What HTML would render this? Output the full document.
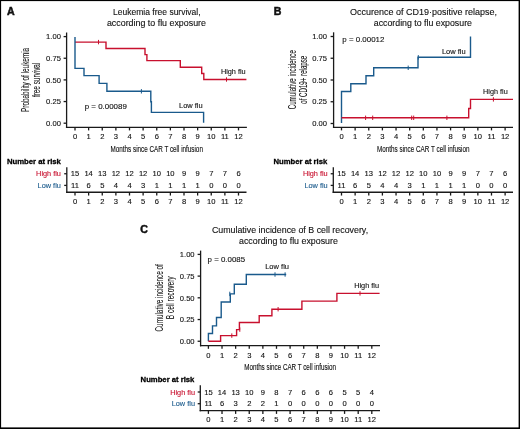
<!DOCTYPE html>
<html><head><meta charset="utf-8"><style>
html,body{margin:0;padding:0;background:#fff;}
body{width:520px;height:429px;overflow:hidden;position:relative;}
svg{position:absolute;left:0;top:0;will-change:transform;}
text{font-family:"Liberation Sans", sans-serif;}
</style></head><body>
<svg width="520" height="429" viewBox="0 0 520 429">
<rect x="0" y="0" width="520" height="429" fill="#fff"/>
<line x1="66.6" y1="32.5" x2="66.6" y2="127.95" stroke="#1a1a1a" stroke-width="1.3"/>
<line x1="65.95" y1="127.3" x2="246.9" y2="127.3" stroke="#1a1a1a" stroke-width="1.3"/>
<line x1="63.6" y1="123.2" x2="66.6" y2="123.2" stroke="#1a1a1a" stroke-width="1.3"/>
<text x="60.9" y="125.9" font-size="7.6" fill="#111" text-anchor="end" stroke="#111" stroke-width="0.12">0.00</text>
<line x1="63.6" y1="101.55" x2="66.6" y2="101.55" stroke="#1a1a1a" stroke-width="1.3"/>
<text x="60.9" y="104.25" font-size="7.6" fill="#111" text-anchor="end" stroke="#111" stroke-width="0.12">0.25</text>
<line x1="63.6" y1="79.9" x2="66.6" y2="79.9" stroke="#1a1a1a" stroke-width="1.3"/>
<text x="60.9" y="82.6" font-size="7.6" fill="#111" text-anchor="end" stroke="#111" stroke-width="0.12">0.50</text>
<line x1="63.6" y1="58.25" x2="66.6" y2="58.25" stroke="#1a1a1a" stroke-width="1.3"/>
<text x="60.9" y="60.95" font-size="7.6" fill="#111" text-anchor="end" stroke="#111" stroke-width="0.12">0.75</text>
<line x1="63.6" y1="36.6" x2="66.6" y2="36.6" stroke="#1a1a1a" stroke-width="1.3"/>
<text x="60.9" y="39.3" font-size="7.6" fill="#111" text-anchor="end" stroke="#111" stroke-width="0.12">1.00</text>
<line x1="75.0" y1="127.3" x2="75.0" y2="130.4" stroke="#1a1a1a" stroke-width="1.3"/>
<text x="75.0" y="139.2" font-size="7.6" fill="#111" text-anchor="middle" stroke="#111" stroke-width="0.12">0</text>
<line x1="88.62" y1="127.3" x2="88.62" y2="130.4" stroke="#1a1a1a" stroke-width="1.3"/>
<text x="88.62" y="139.2" font-size="7.6" fill="#111" text-anchor="middle" stroke="#111" stroke-width="0.12">1</text>
<line x1="102.25" y1="127.3" x2="102.25" y2="130.4" stroke="#1a1a1a" stroke-width="1.3"/>
<text x="102.25" y="139.2" font-size="7.6" fill="#111" text-anchor="middle" stroke="#111" stroke-width="0.12">2</text>
<line x1="115.88" y1="127.3" x2="115.88" y2="130.4" stroke="#1a1a1a" stroke-width="1.3"/>
<text x="115.88" y="139.2" font-size="7.6" fill="#111" text-anchor="middle" stroke="#111" stroke-width="0.12">3</text>
<line x1="129.5" y1="127.3" x2="129.5" y2="130.4" stroke="#1a1a1a" stroke-width="1.3"/>
<text x="129.5" y="139.2" font-size="7.6" fill="#111" text-anchor="middle" stroke="#111" stroke-width="0.12">4</text>
<line x1="143.12" y1="127.3" x2="143.12" y2="130.4" stroke="#1a1a1a" stroke-width="1.3"/>
<text x="143.12" y="139.2" font-size="7.6" fill="#111" text-anchor="middle" stroke="#111" stroke-width="0.12">5</text>
<line x1="156.75" y1="127.3" x2="156.75" y2="130.4" stroke="#1a1a1a" stroke-width="1.3"/>
<text x="156.75" y="139.2" font-size="7.6" fill="#111" text-anchor="middle" stroke="#111" stroke-width="0.12">6</text>
<line x1="170.38" y1="127.3" x2="170.38" y2="130.4" stroke="#1a1a1a" stroke-width="1.3"/>
<text x="170.38" y="139.2" font-size="7.6" fill="#111" text-anchor="middle" stroke="#111" stroke-width="0.12">7</text>
<line x1="184.0" y1="127.3" x2="184.0" y2="130.4" stroke="#1a1a1a" stroke-width="1.3"/>
<text x="184.0" y="139.2" font-size="7.6" fill="#111" text-anchor="middle" stroke="#111" stroke-width="0.12">8</text>
<line x1="197.62" y1="127.3" x2="197.62" y2="130.4" stroke="#1a1a1a" stroke-width="1.3"/>
<text x="197.62" y="139.2" font-size="7.6" fill="#111" text-anchor="middle" stroke="#111" stroke-width="0.12">9</text>
<line x1="211.25" y1="127.3" x2="211.25" y2="130.4" stroke="#1a1a1a" stroke-width="1.3"/>
<text x="211.25" y="139.2" font-size="7.6" fill="#111" text-anchor="middle" stroke="#111" stroke-width="0.12">10</text>
<line x1="224.88" y1="127.3" x2="224.88" y2="130.4" stroke="#1a1a1a" stroke-width="1.3"/>
<text x="224.88" y="139.2" font-size="7.6" fill="#111" text-anchor="middle" stroke="#111" stroke-width="0.12">11</text>
<line x1="238.5" y1="127.3" x2="238.5" y2="130.4" stroke="#1a1a1a" stroke-width="1.3"/>
<text x="238.5" y="139.2" font-size="7.6" fill="#111" text-anchor="middle" stroke="#111" stroke-width="0.12">12</text>
<text x="156.75" y="151.8" font-size="9.9" fill="#111" text-anchor="middle" textLength="92.3" lengthAdjust="spacingAndGlyphs" stroke="#111" stroke-width="0.15">Months since CAR T cell infusion</text>
<text x="29.0" y="79.9" font-size="10.0" fill="#111" text-anchor="middle" textLength="64.0" lengthAdjust="spacingAndGlyphs" transform="rotate(-90 29.0 79.9)" stroke="#111" stroke-width="0.08">Probability of leukemia</text>
<text x="40.0" y="79.9" font-size="10.0" fill="#111" text-anchor="middle" textLength="34.4" lengthAdjust="spacingAndGlyphs" transform="rotate(-90 40.0 79.9)" stroke="#111" stroke-width="0.08">free survival</text>
<text x="156.85" y="14.75" font-size="9.1" fill="#111" text-anchor="middle" textLength="87.5" lengthAdjust="spacingAndGlyphs" stroke="#111" stroke-width="0.12">Leukemia free survival,</text>
<text x="156.45" y="25.9" font-size="9.1" fill="#111" text-anchor="middle" textLength="99.1" lengthAdjust="spacingAndGlyphs" stroke="#111" stroke-width="0.12">according to flu exposure</text>
<text x="6.9" y="14.6" font-size="10.6" fill="#111" font-weight="bold" stroke="#111" stroke-width="0.5">A</text>
<polyline points="75,42.1 106,42.1 106,48.5 145,48.5 145,54.6 146.9,54.6 146.9,60.6 180.3,60.6 180.3,67.3 201.7,67.3 201.7,73.5 203.8,73.5 203.8,79.5 246.4,79.5" fill="none" stroke="#c8102e" stroke-width="1.4" stroke-linejoin="miter" stroke-linecap="butt"/>
<line x1="98.5" y1="39.9" x2="98.5" y2="44.3" stroke="#c8102e" stroke-width="1.0"/>
<line x1="226.5" y1="77.3" x2="226.5" y2="81.7" stroke="#c8102e" stroke-width="1.0"/>
<polyline points="75,36.9 75,68.4 84,68.4 84,75.6 99.1,75.6 99.1,83.4 106.9,83.4 106.9,91.3 150.8,91.3 150.8,101.8 151.4,101.8 151.4,112.4 203.6,112.4 203.6,122.8" fill="none" stroke="#1a5a8c" stroke-width="1.4" stroke-linejoin="miter" stroke-linecap="butt"/>
<line x1="141.4" y1="89.1" x2="141.4" y2="93.5" stroke="#1a5a8c" stroke-width="1.0"/>
<text x="84.75" y="108.6" font-size="8.0" fill="#111" textLength="42.1" lengthAdjust="spacingAndGlyphs" stroke="#111" stroke-width="0.12">p = 0.00089</text>
<text x="245.7" y="73.8" font-size="7.9" fill="#111" text-anchor="end" textLength="24.8" lengthAdjust="spacingAndGlyphs" stroke="#111" stroke-width="0.12">High flu</text>
<text x="202.7" y="108.1" font-size="7.9" fill="#111" text-anchor="end" textLength="23.7" lengthAdjust="spacingAndGlyphs" stroke="#111" stroke-width="0.12">Low flu</text>
<line x1="333.6" y1="32.3" x2="333.6" y2="127.95" stroke="#1a1a1a" stroke-width="1.3"/>
<line x1="332.95" y1="127.3" x2="513.0" y2="127.3" stroke="#1a1a1a" stroke-width="1.3"/>
<line x1="330.6" y1="123.5" x2="333.6" y2="123.5" stroke="#1a1a1a" stroke-width="1.3"/>
<text x="327.0" y="126.2" font-size="7.6" fill="#111" text-anchor="end" stroke="#111" stroke-width="0.12">0.00</text>
<line x1="330.6" y1="101.75" x2="333.6" y2="101.75" stroke="#1a1a1a" stroke-width="1.3"/>
<text x="327.0" y="104.45" font-size="7.6" fill="#111" text-anchor="end" stroke="#111" stroke-width="0.12">0.25</text>
<line x1="330.6" y1="80.0" x2="333.6" y2="80.0" stroke="#1a1a1a" stroke-width="1.3"/>
<text x="327.0" y="82.7" font-size="7.6" fill="#111" text-anchor="end" stroke="#111" stroke-width="0.12">0.50</text>
<line x1="330.6" y1="58.25" x2="333.6" y2="58.25" stroke="#1a1a1a" stroke-width="1.3"/>
<text x="327.0" y="60.95" font-size="7.6" fill="#111" text-anchor="end" stroke="#111" stroke-width="0.12">0.75</text>
<line x1="330.6" y1="36.5" x2="333.6" y2="36.5" stroke="#1a1a1a" stroke-width="1.3"/>
<text x="327.0" y="39.2" font-size="7.6" fill="#111" text-anchor="end" stroke="#111" stroke-width="0.12">1.00</text>
<line x1="341.5" y1="127.3" x2="341.5" y2="130.4" stroke="#1a1a1a" stroke-width="1.3"/>
<text x="341.5" y="139.2" font-size="7.6" fill="#111" text-anchor="middle" stroke="#111" stroke-width="0.12">0</text>
<line x1="355.13" y1="127.3" x2="355.13" y2="130.4" stroke="#1a1a1a" stroke-width="1.3"/>
<text x="355.13" y="139.2" font-size="7.6" fill="#111" text-anchor="middle" stroke="#111" stroke-width="0.12">1</text>
<line x1="368.77" y1="127.3" x2="368.77" y2="130.4" stroke="#1a1a1a" stroke-width="1.3"/>
<text x="368.77" y="139.2" font-size="7.6" fill="#111" text-anchor="middle" stroke="#111" stroke-width="0.12">2</text>
<line x1="382.4" y1="127.3" x2="382.4" y2="130.4" stroke="#1a1a1a" stroke-width="1.3"/>
<text x="382.4" y="139.2" font-size="7.6" fill="#111" text-anchor="middle" stroke="#111" stroke-width="0.12">3</text>
<line x1="396.04" y1="127.3" x2="396.04" y2="130.4" stroke="#1a1a1a" stroke-width="1.3"/>
<text x="396.04" y="139.2" font-size="7.6" fill="#111" text-anchor="middle" stroke="#111" stroke-width="0.12">4</text>
<line x1="409.68" y1="127.3" x2="409.68" y2="130.4" stroke="#1a1a1a" stroke-width="1.3"/>
<text x="409.68" y="139.2" font-size="7.6" fill="#111" text-anchor="middle" stroke="#111" stroke-width="0.12">5</text>
<line x1="423.31" y1="127.3" x2="423.31" y2="130.4" stroke="#1a1a1a" stroke-width="1.3"/>
<text x="423.31" y="139.2" font-size="7.6" fill="#111" text-anchor="middle" stroke="#111" stroke-width="0.12">6</text>
<line x1="436.94" y1="127.3" x2="436.94" y2="130.4" stroke="#1a1a1a" stroke-width="1.3"/>
<text x="436.94" y="139.2" font-size="7.6" fill="#111" text-anchor="middle" stroke="#111" stroke-width="0.12">7</text>
<line x1="450.58" y1="127.3" x2="450.58" y2="130.4" stroke="#1a1a1a" stroke-width="1.3"/>
<text x="450.58" y="139.2" font-size="7.6" fill="#111" text-anchor="middle" stroke="#111" stroke-width="0.12">8</text>
<line x1="464.22" y1="127.3" x2="464.22" y2="130.4" stroke="#1a1a1a" stroke-width="1.3"/>
<text x="464.22" y="139.2" font-size="7.6" fill="#111" text-anchor="middle" stroke="#111" stroke-width="0.12">9</text>
<line x1="477.85" y1="127.3" x2="477.85" y2="130.4" stroke="#1a1a1a" stroke-width="1.3"/>
<text x="477.85" y="139.2" font-size="7.6" fill="#111" text-anchor="middle" stroke="#111" stroke-width="0.12">10</text>
<line x1="491.49" y1="127.3" x2="491.49" y2="130.4" stroke="#1a1a1a" stroke-width="1.3"/>
<text x="491.49" y="139.2" font-size="7.6" fill="#111" text-anchor="middle" stroke="#111" stroke-width="0.12">11</text>
<line x1="505.12" y1="127.3" x2="505.12" y2="130.4" stroke="#1a1a1a" stroke-width="1.3"/>
<text x="505.12" y="139.2" font-size="7.6" fill="#111" text-anchor="middle" stroke="#111" stroke-width="0.12">12</text>
<text x="423.31" y="151.7" font-size="9.9" fill="#111" text-anchor="middle" textLength="92.5" lengthAdjust="spacingAndGlyphs" stroke="#111" stroke-width="0.15">Months since CAR T cell infusion</text>
<text x="295.6" y="79.75" font-size="10.0" fill="#111" text-anchor="middle" textLength="59.2" lengthAdjust="spacingAndGlyphs" transform="rotate(-90 295.6 79.75)" stroke="#111" stroke-width="0.08">Cumulative incidence</text>
<text x="306.8" y="79.75" font-size="10.0" fill="#111" text-anchor="middle" textLength="48.0" lengthAdjust="spacingAndGlyphs" transform="rotate(-90 306.8 79.75)" stroke="#111" stroke-width="0.08">of CD19+ relapse</text>
<text x="423.45" y="14.75" font-size="9.1" fill="#111" text-anchor="middle" textLength="146.9" lengthAdjust="spacingAndGlyphs" stroke="#111" stroke-width="0.12">Occurence of CD19&#183;positive relapse,</text>
<text x="422.85" y="26.2" font-size="9.1" fill="#111" text-anchor="middle" textLength="98.2" lengthAdjust="spacingAndGlyphs" stroke="#111" stroke-width="0.12">according to flu exposure</text>
<text x="273.75" y="14.75" font-size="10.6" fill="#111" font-weight="bold" stroke="#111" stroke-width="0.5">B</text>
<polyline points="341.5,123.0 341.5,91.5 350.8,91.5 350.8,83.7 366,83.7 366,75.8 373.7,75.8 373.7,67.8 418,67.8 418,57.3 470.5,57.3 470.5,36.6" fill="none" stroke="#1a5a8c" stroke-width="1.4" stroke-linejoin="miter" stroke-linecap="butt"/>
<line x1="408.2" y1="65.6" x2="408.2" y2="70.0" stroke="#1a5a8c" stroke-width="1.0"/>
<line x1="418.3" y1="55.1" x2="418.3" y2="59.5" stroke="#1a5a8c" stroke-width="1.0"/>
<polyline points="341.5,117.8 468.7,117.8 468.7,108.5 470.5,108.5 470.5,99.4 513,99.4" fill="none" stroke="#c8102e" stroke-width="1.4" stroke-linejoin="miter" stroke-linecap="butt"/>
<line x1="365.6" y1="115.6" x2="365.6" y2="120.0" stroke="#c8102e" stroke-width="1.0"/>
<line x1="372.7" y1="115.6" x2="372.7" y2="120.0" stroke="#c8102e" stroke-width="1.0"/>
<line x1="411.7" y1="115.6" x2="411.7" y2="120.0" stroke="#c8102e" stroke-width="1.0"/>
<line x1="413.7" y1="115.6" x2="413.7" y2="120.0" stroke="#c8102e" stroke-width="1.0"/>
<line x1="446.9" y1="115.6" x2="446.9" y2="120.0" stroke="#c8102e" stroke-width="1.0"/>
<line x1="493.4" y1="97.2" x2="493.4" y2="101.6" stroke="#c8102e" stroke-width="1.0"/>
<text x="342.3" y="42.3" font-size="8.0" fill="#111" textLength="42.1" lengthAdjust="spacingAndGlyphs" stroke="#111" stroke-width="0.12">p = 0.00012</text>
<text x="465.7" y="53.9" font-size="7.9" fill="#111" text-anchor="end" textLength="23.8" lengthAdjust="spacingAndGlyphs" stroke="#111" stroke-width="0.12">Low flu</text>
<text x="507.7" y="93.8" font-size="7.9" fill="#111" text-anchor="end" textLength="24.6" lengthAdjust="spacingAndGlyphs" stroke="#111" stroke-width="0.12">High flu</text>
<line x1="200.6" y1="250.6" x2="200.6" y2="346.35" stroke="#1a1a1a" stroke-width="1.3"/>
<line x1="199.95" y1="345.7" x2="380.0" y2="345.7" stroke="#1a1a1a" stroke-width="1.3"/>
<line x1="197.6" y1="341.25" x2="200.6" y2="341.25" stroke="#1a1a1a" stroke-width="1.3"/>
<text x="194.6" y="343.95" font-size="7.6" fill="#111" text-anchor="end" stroke="#111" stroke-width="0.12">0.00</text>
<line x1="197.6" y1="319.54" x2="200.6" y2="319.54" stroke="#1a1a1a" stroke-width="1.3"/>
<text x="194.6" y="322.24" font-size="7.6" fill="#111" text-anchor="end" stroke="#111" stroke-width="0.12">0.25</text>
<line x1="197.6" y1="297.82" x2="200.6" y2="297.82" stroke="#1a1a1a" stroke-width="1.3"/>
<text x="194.6" y="300.52" font-size="7.6" fill="#111" text-anchor="end" stroke="#111" stroke-width="0.12">0.50</text>
<line x1="197.6" y1="276.11" x2="200.6" y2="276.11" stroke="#1a1a1a" stroke-width="1.3"/>
<text x="194.6" y="278.81" font-size="7.6" fill="#111" text-anchor="end" stroke="#111" stroke-width="0.12">0.75</text>
<line x1="197.6" y1="254.4" x2="200.6" y2="254.4" stroke="#1a1a1a" stroke-width="1.3"/>
<text x="194.6" y="257.1" font-size="7.6" fill="#111" text-anchor="end" stroke="#111" stroke-width="0.12">1.00</text>
<line x1="208.4" y1="345.7" x2="208.4" y2="348.8" stroke="#1a1a1a" stroke-width="1.3"/>
<text x="208.4" y="357.6" font-size="7.6" fill="#111" text-anchor="middle" stroke="#111" stroke-width="0.12">0</text>
<line x1="222.02" y1="345.7" x2="222.02" y2="348.8" stroke="#1a1a1a" stroke-width="1.3"/>
<text x="222.02" y="357.6" font-size="7.6" fill="#111" text-anchor="middle" stroke="#111" stroke-width="0.12">1</text>
<line x1="235.63" y1="345.7" x2="235.63" y2="348.8" stroke="#1a1a1a" stroke-width="1.3"/>
<text x="235.63" y="357.6" font-size="7.6" fill="#111" text-anchor="middle" stroke="#111" stroke-width="0.12">2</text>
<line x1="249.25" y1="345.7" x2="249.25" y2="348.8" stroke="#1a1a1a" stroke-width="1.3"/>
<text x="249.25" y="357.6" font-size="7.6" fill="#111" text-anchor="middle" stroke="#111" stroke-width="0.12">3</text>
<line x1="262.87" y1="345.7" x2="262.87" y2="348.8" stroke="#1a1a1a" stroke-width="1.3"/>
<text x="262.87" y="357.6" font-size="7.6" fill="#111" text-anchor="middle" stroke="#111" stroke-width="0.12">4</text>
<line x1="276.49" y1="345.7" x2="276.49" y2="348.8" stroke="#1a1a1a" stroke-width="1.3"/>
<text x="276.49" y="357.6" font-size="7.6" fill="#111" text-anchor="middle" stroke="#111" stroke-width="0.12">5</text>
<line x1="290.1" y1="345.7" x2="290.1" y2="348.8" stroke="#1a1a1a" stroke-width="1.3"/>
<text x="290.1" y="357.6" font-size="7.6" fill="#111" text-anchor="middle" stroke="#111" stroke-width="0.12">6</text>
<line x1="303.72" y1="345.7" x2="303.72" y2="348.8" stroke="#1a1a1a" stroke-width="1.3"/>
<text x="303.72" y="357.6" font-size="7.6" fill="#111" text-anchor="middle" stroke="#111" stroke-width="0.12">7</text>
<line x1="317.34" y1="345.7" x2="317.34" y2="348.8" stroke="#1a1a1a" stroke-width="1.3"/>
<text x="317.34" y="357.6" font-size="7.6" fill="#111" text-anchor="middle" stroke="#111" stroke-width="0.12">8</text>
<line x1="330.95" y1="345.7" x2="330.95" y2="348.8" stroke="#1a1a1a" stroke-width="1.3"/>
<text x="330.95" y="357.6" font-size="7.6" fill="#111" text-anchor="middle" stroke="#111" stroke-width="0.12">9</text>
<line x1="344.57" y1="345.7" x2="344.57" y2="348.8" stroke="#1a1a1a" stroke-width="1.3"/>
<text x="344.57" y="357.6" font-size="7.6" fill="#111" text-anchor="middle" stroke="#111" stroke-width="0.12">10</text>
<line x1="358.19" y1="345.7" x2="358.19" y2="348.8" stroke="#1a1a1a" stroke-width="1.3"/>
<text x="358.19" y="357.6" font-size="7.6" fill="#111" text-anchor="middle" stroke="#111" stroke-width="0.12">11</text>
<line x1="371.8" y1="345.7" x2="371.8" y2="348.8" stroke="#1a1a1a" stroke-width="1.3"/>
<text x="371.8" y="357.6" font-size="7.6" fill="#111" text-anchor="middle" stroke="#111" stroke-width="0.12">12</text>
<text x="290.1" y="370.0" font-size="9.9" fill="#111" text-anchor="middle" textLength="91.8" lengthAdjust="spacingAndGlyphs" stroke="#111" stroke-width="0.15">Months since CAR T cell infusion</text>
<text x="163.0" y="297.8" font-size="10.0" fill="#111" text-anchor="middle" textLength="67.3" lengthAdjust="spacingAndGlyphs" transform="rotate(-90 163.0 297.8)" stroke="#111" stroke-width="0.08">Cumulative incidence of</text>
<text x="173.9" y="297.8" font-size="10.0" fill="#111" text-anchor="middle" textLength="42.9" lengthAdjust="spacingAndGlyphs" transform="rotate(-90 173.9 297.8)" stroke="#111" stroke-width="0.08">B cell recovery</text>
<text x="290.0" y="232.9" font-size="9.1" fill="#111" text-anchor="middle" textLength="156.2" lengthAdjust="spacingAndGlyphs" stroke="#111" stroke-width="0.12">Cumulative incidence of B cell recovery,</text>
<text x="288.45" y="243.8" font-size="9.1" fill="#111" text-anchor="middle" textLength="98.9" lengthAdjust="spacingAndGlyphs" stroke="#111" stroke-width="0.12">according to flu exposure</text>
<text x="140.25" y="233.1" font-size="10.6" fill="#111" font-weight="bold" stroke="#111" stroke-width="0.5">C</text>
<polyline points="208.4,341.3 208.4,333.5 212.5,333.5 212.5,325.9 216.5,325.9 216.5,317.5 221.2,317.5 221.2,302.0 230.3,302.0 230.3,293.9 234.3,293.9 234.3,284.3 246.3,284.3 246.3,274.5 286.2,274.5" fill="none" stroke="#1a5a8c" stroke-width="1.4" stroke-linejoin="miter" stroke-linecap="butt"/>
<line x1="229.8" y1="291.7" x2="229.8" y2="296.1" stroke="#1a5a8c" stroke-width="1.0"/>
<line x1="275.0" y1="272.3" x2="275.0" y2="276.7" stroke="#1a5a8c" stroke-width="1.0"/>
<line x1="285.1" y1="272.3" x2="285.1" y2="276.7" stroke="#1a5a8c" stroke-width="1.0"/>
<polyline points="208.4,341.3 220.6,341.3 220.6,335.6 236.6,335.6 236.6,329.6 239.4,329.6 239.4,322.5 259.2,322.5 259.2,315.8 271.9,315.8 271.9,309.2 301.9,309.2 301.9,301.1 336.9,301.1 336.9,293.4 379.6,293.4" fill="none" stroke="#c8102e" stroke-width="1.4" stroke-linejoin="miter" stroke-linecap="butt"/>
<line x1="231.8" y1="333.4" x2="231.8" y2="337.8" stroke="#c8102e" stroke-width="1.0"/>
<line x1="239.8" y1="327.4" x2="239.8" y2="331.8" stroke="#c8102e" stroke-width="1.0"/>
<line x1="278.1" y1="307.0" x2="278.1" y2="311.4" stroke="#c8102e" stroke-width="1.0"/>
<line x1="360.0" y1="291.2" x2="360.0" y2="295.6" stroke="#c8102e" stroke-width="1.0"/>
<text x="207.6" y="261.6" font-size="8.0" fill="#111" textLength="37.5" lengthAdjust="spacingAndGlyphs" stroke="#111" stroke-width="0.12">p = 0.0085</text>
<text x="289.0" y="269.4" font-size="7.9" fill="#111" text-anchor="end" textLength="23.8" lengthAdjust="spacingAndGlyphs" stroke="#111" stroke-width="0.12">Low flu</text>
<text x="379.1" y="287.8" font-size="7.9" fill="#111" text-anchor="end" textLength="24.9" lengthAdjust="spacingAndGlyphs" stroke="#111" stroke-width="0.12">High flu</text>
<text x="6.9" y="163.7" font-size="7.9" fill="#000" font-weight="bold" textLength="54.0" lengthAdjust="spacingAndGlyphs" stroke="#000" stroke-width="0.3">Number at risk</text>
<text x="60.9" y="176.3" font-size="7.8" fill="#c8102e" text-anchor="end" textLength="24.8" lengthAdjust="spacingAndGlyphs" stroke="#c8102e" stroke-width="0.12">High flu</text>
<text x="60.9" y="187.6" font-size="7.8" fill="#1a5a8c" text-anchor="end" textLength="23.3" lengthAdjust="spacingAndGlyphs" stroke="#1a5a8c" stroke-width="0.12">Low flu</text>
<line x1="66.8" y1="167.2" x2="66.8" y2="192.9" stroke="#1a1a1a" stroke-width="1.3"/>
<line x1="66.15" y1="192.25" x2="246.5" y2="192.25" stroke="#1a1a1a" stroke-width="1.3"/>
<line x1="64.2" y1="173.75" x2="66.8" y2="173.75" stroke="#1a1a1a" stroke-width="1.3"/>
<line x1="64.2" y1="185.4" x2="66.8" y2="185.4" stroke="#1a1a1a" stroke-width="1.3"/>
<text x="75.0" y="176.3" font-size="7.6" fill="#111" text-anchor="middle" stroke="#111" stroke-width="0.12">15</text>
<text x="75.0" y="187.6" font-size="7.6" fill="#111" text-anchor="middle" stroke="#111" stroke-width="0.12">11</text>
<line x1="75.0" y1="192.25" x2="75.0" y2="195.55" stroke="#1a1a1a" stroke-width="1.3"/>
<text x="75.0" y="204.0" font-size="7.6" fill="#111" text-anchor="middle" stroke="#111" stroke-width="0.12">0</text>
<text x="88.62" y="176.3" font-size="7.6" fill="#111" text-anchor="middle" stroke="#111" stroke-width="0.12">14</text>
<text x="88.62" y="187.6" font-size="7.6" fill="#111" text-anchor="middle" stroke="#111" stroke-width="0.12">6</text>
<line x1="88.62" y1="192.25" x2="88.62" y2="195.55" stroke="#1a1a1a" stroke-width="1.3"/>
<text x="88.62" y="204.0" font-size="7.6" fill="#111" text-anchor="middle" stroke="#111" stroke-width="0.12">1</text>
<text x="102.25" y="176.3" font-size="7.6" fill="#111" text-anchor="middle" stroke="#111" stroke-width="0.12">13</text>
<text x="102.25" y="187.6" font-size="7.6" fill="#111" text-anchor="middle" stroke="#111" stroke-width="0.12">5</text>
<line x1="102.25" y1="192.25" x2="102.25" y2="195.55" stroke="#1a1a1a" stroke-width="1.3"/>
<text x="102.25" y="204.0" font-size="7.6" fill="#111" text-anchor="middle" stroke="#111" stroke-width="0.12">2</text>
<text x="115.88" y="176.3" font-size="7.6" fill="#111" text-anchor="middle" stroke="#111" stroke-width="0.12">12</text>
<text x="115.88" y="187.6" font-size="7.6" fill="#111" text-anchor="middle" stroke="#111" stroke-width="0.12">4</text>
<line x1="115.88" y1="192.25" x2="115.88" y2="195.55" stroke="#1a1a1a" stroke-width="1.3"/>
<text x="115.88" y="204.0" font-size="7.6" fill="#111" text-anchor="middle" stroke="#111" stroke-width="0.12">3</text>
<text x="129.5" y="176.3" font-size="7.6" fill="#111" text-anchor="middle" stroke="#111" stroke-width="0.12">12</text>
<text x="129.5" y="187.6" font-size="7.6" fill="#111" text-anchor="middle" stroke="#111" stroke-width="0.12">4</text>
<line x1="129.5" y1="192.25" x2="129.5" y2="195.55" stroke="#1a1a1a" stroke-width="1.3"/>
<text x="129.5" y="204.0" font-size="7.6" fill="#111" text-anchor="middle" stroke="#111" stroke-width="0.12">4</text>
<text x="143.12" y="176.3" font-size="7.6" fill="#111" text-anchor="middle" stroke="#111" stroke-width="0.12">12</text>
<text x="143.12" y="187.6" font-size="7.6" fill="#111" text-anchor="middle" stroke="#111" stroke-width="0.12">3</text>
<line x1="143.12" y1="192.25" x2="143.12" y2="195.55" stroke="#1a1a1a" stroke-width="1.3"/>
<text x="143.12" y="204.0" font-size="7.6" fill="#111" text-anchor="middle" stroke="#111" stroke-width="0.12">5</text>
<text x="156.75" y="176.3" font-size="7.6" fill="#111" text-anchor="middle" stroke="#111" stroke-width="0.12">10</text>
<text x="156.75" y="187.6" font-size="7.6" fill="#111" text-anchor="middle" stroke="#111" stroke-width="0.12">1</text>
<line x1="156.75" y1="192.25" x2="156.75" y2="195.55" stroke="#1a1a1a" stroke-width="1.3"/>
<text x="156.75" y="204.0" font-size="7.6" fill="#111" text-anchor="middle" stroke="#111" stroke-width="0.12">6</text>
<text x="170.38" y="176.3" font-size="7.6" fill="#111" text-anchor="middle" stroke="#111" stroke-width="0.12">10</text>
<text x="170.38" y="187.6" font-size="7.6" fill="#111" text-anchor="middle" stroke="#111" stroke-width="0.12">1</text>
<line x1="170.38" y1="192.25" x2="170.38" y2="195.55" stroke="#1a1a1a" stroke-width="1.3"/>
<text x="170.38" y="204.0" font-size="7.6" fill="#111" text-anchor="middle" stroke="#111" stroke-width="0.12">7</text>
<text x="184.0" y="176.3" font-size="7.6" fill="#111" text-anchor="middle" stroke="#111" stroke-width="0.12">9</text>
<text x="184.0" y="187.6" font-size="7.6" fill="#111" text-anchor="middle" stroke="#111" stroke-width="0.12">1</text>
<line x1="184.0" y1="192.25" x2="184.0" y2="195.55" stroke="#1a1a1a" stroke-width="1.3"/>
<text x="184.0" y="204.0" font-size="7.6" fill="#111" text-anchor="middle" stroke="#111" stroke-width="0.12">8</text>
<text x="197.62" y="176.3" font-size="7.6" fill="#111" text-anchor="middle" stroke="#111" stroke-width="0.12">9</text>
<text x="197.62" y="187.6" font-size="7.6" fill="#111" text-anchor="middle" stroke="#111" stroke-width="0.12">1</text>
<line x1="197.62" y1="192.25" x2="197.62" y2="195.55" stroke="#1a1a1a" stroke-width="1.3"/>
<text x="197.62" y="204.0" font-size="7.6" fill="#111" text-anchor="middle" stroke="#111" stroke-width="0.12">9</text>
<text x="211.25" y="176.3" font-size="7.6" fill="#111" text-anchor="middle" stroke="#111" stroke-width="0.12">7</text>
<text x="211.25" y="187.6" font-size="7.6" fill="#111" text-anchor="middle" stroke="#111" stroke-width="0.12">0</text>
<line x1="211.25" y1="192.25" x2="211.25" y2="195.55" stroke="#1a1a1a" stroke-width="1.3"/>
<text x="211.25" y="204.0" font-size="7.6" fill="#111" text-anchor="middle" stroke="#111" stroke-width="0.12">10</text>
<text x="224.88" y="176.3" font-size="7.6" fill="#111" text-anchor="middle" stroke="#111" stroke-width="0.12">7</text>
<text x="224.88" y="187.6" font-size="7.6" fill="#111" text-anchor="middle" stroke="#111" stroke-width="0.12">0</text>
<line x1="224.88" y1="192.25" x2="224.88" y2="195.55" stroke="#1a1a1a" stroke-width="1.3"/>
<text x="224.88" y="204.0" font-size="7.6" fill="#111" text-anchor="middle" stroke="#111" stroke-width="0.12">11</text>
<text x="238.5" y="176.3" font-size="7.6" fill="#111" text-anchor="middle" stroke="#111" stroke-width="0.12">6</text>
<text x="238.5" y="187.6" font-size="7.6" fill="#111" text-anchor="middle" stroke="#111" stroke-width="0.12">0</text>
<line x1="238.5" y1="192.25" x2="238.5" y2="195.55" stroke="#1a1a1a" stroke-width="1.3"/>
<text x="238.5" y="204.0" font-size="7.6" fill="#111" text-anchor="middle" stroke="#111" stroke-width="0.12">12</text>
<text x="273.5" y="163.65" font-size="7.9" fill="#000" font-weight="bold" textLength="53.8" lengthAdjust="spacingAndGlyphs" stroke="#000" stroke-width="0.3">Number at risk</text>
<text x="327.7" y="176.3" font-size="7.8" fill="#c8102e" text-anchor="end" textLength="24.8" lengthAdjust="spacingAndGlyphs" stroke="#c8102e" stroke-width="0.12">High flu</text>
<text x="327.7" y="187.6" font-size="7.8" fill="#1a5a8c" text-anchor="end" textLength="23.3" lengthAdjust="spacingAndGlyphs" stroke="#1a5a8c" stroke-width="0.12">Low flu</text>
<line x1="333.3" y1="167.2" x2="333.3" y2="192.9" stroke="#1a1a1a" stroke-width="1.3"/>
<line x1="332.65" y1="192.25" x2="513.0" y2="192.25" stroke="#1a1a1a" stroke-width="1.3"/>
<line x1="330.7" y1="173.75" x2="333.3" y2="173.75" stroke="#1a1a1a" stroke-width="1.3"/>
<line x1="330.7" y1="185.4" x2="333.3" y2="185.4" stroke="#1a1a1a" stroke-width="1.3"/>
<text x="341.5" y="176.3" font-size="7.6" fill="#111" text-anchor="middle" stroke="#111" stroke-width="0.12">15</text>
<text x="341.5" y="187.6" font-size="7.6" fill="#111" text-anchor="middle" stroke="#111" stroke-width="0.12">11</text>
<line x1="341.5" y1="192.25" x2="341.5" y2="195.55" stroke="#1a1a1a" stroke-width="1.3"/>
<text x="341.5" y="204.0" font-size="7.6" fill="#111" text-anchor="middle" stroke="#111" stroke-width="0.12">0</text>
<text x="355.13" y="176.3" font-size="7.6" fill="#111" text-anchor="middle" stroke="#111" stroke-width="0.12">14</text>
<text x="355.13" y="187.6" font-size="7.6" fill="#111" text-anchor="middle" stroke="#111" stroke-width="0.12">6</text>
<line x1="355.13" y1="192.25" x2="355.13" y2="195.55" stroke="#1a1a1a" stroke-width="1.3"/>
<text x="355.13" y="204.0" font-size="7.6" fill="#111" text-anchor="middle" stroke="#111" stroke-width="0.12">1</text>
<text x="368.77" y="176.3" font-size="7.6" fill="#111" text-anchor="middle" stroke="#111" stroke-width="0.12">13</text>
<text x="368.77" y="187.6" font-size="7.6" fill="#111" text-anchor="middle" stroke="#111" stroke-width="0.12">5</text>
<line x1="368.77" y1="192.25" x2="368.77" y2="195.55" stroke="#1a1a1a" stroke-width="1.3"/>
<text x="368.77" y="204.0" font-size="7.6" fill="#111" text-anchor="middle" stroke="#111" stroke-width="0.12">2</text>
<text x="382.4" y="176.3" font-size="7.6" fill="#111" text-anchor="middle" stroke="#111" stroke-width="0.12">12</text>
<text x="382.4" y="187.6" font-size="7.6" fill="#111" text-anchor="middle" stroke="#111" stroke-width="0.12">4</text>
<line x1="382.4" y1="192.25" x2="382.4" y2="195.55" stroke="#1a1a1a" stroke-width="1.3"/>
<text x="382.4" y="204.0" font-size="7.6" fill="#111" text-anchor="middle" stroke="#111" stroke-width="0.12">3</text>
<text x="396.04" y="176.3" font-size="7.6" fill="#111" text-anchor="middle" stroke="#111" stroke-width="0.12">12</text>
<text x="396.04" y="187.6" font-size="7.6" fill="#111" text-anchor="middle" stroke="#111" stroke-width="0.12">4</text>
<line x1="396.04" y1="192.25" x2="396.04" y2="195.55" stroke="#1a1a1a" stroke-width="1.3"/>
<text x="396.04" y="204.0" font-size="7.6" fill="#111" text-anchor="middle" stroke="#111" stroke-width="0.12">4</text>
<text x="409.68" y="176.3" font-size="7.6" fill="#111" text-anchor="middle" stroke="#111" stroke-width="0.12">12</text>
<text x="409.68" y="187.6" font-size="7.6" fill="#111" text-anchor="middle" stroke="#111" stroke-width="0.12">3</text>
<line x1="409.68" y1="192.25" x2="409.68" y2="195.55" stroke="#1a1a1a" stroke-width="1.3"/>
<text x="409.68" y="204.0" font-size="7.6" fill="#111" text-anchor="middle" stroke="#111" stroke-width="0.12">5</text>
<text x="423.31" y="176.3" font-size="7.6" fill="#111" text-anchor="middle" stroke="#111" stroke-width="0.12">10</text>
<text x="423.31" y="187.6" font-size="7.6" fill="#111" text-anchor="middle" stroke="#111" stroke-width="0.12">1</text>
<line x1="423.31" y1="192.25" x2="423.31" y2="195.55" stroke="#1a1a1a" stroke-width="1.3"/>
<text x="423.31" y="204.0" font-size="7.6" fill="#111" text-anchor="middle" stroke="#111" stroke-width="0.12">6</text>
<text x="436.94" y="176.3" font-size="7.6" fill="#111" text-anchor="middle" stroke="#111" stroke-width="0.12">10</text>
<text x="436.94" y="187.6" font-size="7.6" fill="#111" text-anchor="middle" stroke="#111" stroke-width="0.12">1</text>
<line x1="436.94" y1="192.25" x2="436.94" y2="195.55" stroke="#1a1a1a" stroke-width="1.3"/>
<text x="436.94" y="204.0" font-size="7.6" fill="#111" text-anchor="middle" stroke="#111" stroke-width="0.12">7</text>
<text x="450.58" y="176.3" font-size="7.6" fill="#111" text-anchor="middle" stroke="#111" stroke-width="0.12">9</text>
<text x="450.58" y="187.6" font-size="7.6" fill="#111" text-anchor="middle" stroke="#111" stroke-width="0.12">1</text>
<line x1="450.58" y1="192.25" x2="450.58" y2="195.55" stroke="#1a1a1a" stroke-width="1.3"/>
<text x="450.58" y="204.0" font-size="7.6" fill="#111" text-anchor="middle" stroke="#111" stroke-width="0.12">8</text>
<text x="464.22" y="176.3" font-size="7.6" fill="#111" text-anchor="middle" stroke="#111" stroke-width="0.12">9</text>
<text x="464.22" y="187.6" font-size="7.6" fill="#111" text-anchor="middle" stroke="#111" stroke-width="0.12">1</text>
<line x1="464.22" y1="192.25" x2="464.22" y2="195.55" stroke="#1a1a1a" stroke-width="1.3"/>
<text x="464.22" y="204.0" font-size="7.6" fill="#111" text-anchor="middle" stroke="#111" stroke-width="0.12">9</text>
<text x="477.85" y="176.3" font-size="7.6" fill="#111" text-anchor="middle" stroke="#111" stroke-width="0.12">7</text>
<text x="477.85" y="187.6" font-size="7.6" fill="#111" text-anchor="middle" stroke="#111" stroke-width="0.12">0</text>
<line x1="477.85" y1="192.25" x2="477.85" y2="195.55" stroke="#1a1a1a" stroke-width="1.3"/>
<text x="477.85" y="204.0" font-size="7.6" fill="#111" text-anchor="middle" stroke="#111" stroke-width="0.12">10</text>
<text x="491.49" y="176.3" font-size="7.6" fill="#111" text-anchor="middle" stroke="#111" stroke-width="0.12">7</text>
<text x="491.49" y="187.6" font-size="7.6" fill="#111" text-anchor="middle" stroke="#111" stroke-width="0.12">0</text>
<line x1="491.49" y1="192.25" x2="491.49" y2="195.55" stroke="#1a1a1a" stroke-width="1.3"/>
<text x="491.49" y="204.0" font-size="7.6" fill="#111" text-anchor="middle" stroke="#111" stroke-width="0.12">11</text>
<text x="505.12" y="176.3" font-size="7.6" fill="#111" text-anchor="middle" stroke="#111" stroke-width="0.12">6</text>
<text x="505.12" y="187.6" font-size="7.6" fill="#111" text-anchor="middle" stroke="#111" stroke-width="0.12">0</text>
<line x1="505.12" y1="192.25" x2="505.12" y2="195.55" stroke="#1a1a1a" stroke-width="1.3"/>
<text x="505.12" y="204.0" font-size="7.6" fill="#111" text-anchor="middle" stroke="#111" stroke-width="0.12">12</text>
<text x="140.6" y="381.5" font-size="7.9" fill="#000" font-weight="bold" textLength="53.8" lengthAdjust="spacingAndGlyphs" stroke="#000" stroke-width="0.3">Number at risk</text>
<text x="195.0" y="394.5" font-size="7.8" fill="#c8102e" text-anchor="end" textLength="24.8" lengthAdjust="spacingAndGlyphs" stroke="#c8102e" stroke-width="0.12">High flu</text>
<text x="195.0" y="405.9" font-size="7.8" fill="#1a5a8c" text-anchor="end" textLength="23.3" lengthAdjust="spacingAndGlyphs" stroke="#1a5a8c" stroke-width="0.12">Low flu</text>
<line x1="200.3" y1="385.3" x2="200.3" y2="411.25" stroke="#1a1a1a" stroke-width="1.3"/>
<line x1="199.65" y1="410.6" x2="380.0" y2="410.6" stroke="#1a1a1a" stroke-width="1.3"/>
<line x1="197.7" y1="392.0" x2="200.3" y2="392.0" stroke="#1a1a1a" stroke-width="1.3"/>
<line x1="197.7" y1="403.7" x2="200.3" y2="403.7" stroke="#1a1a1a" stroke-width="1.3"/>
<text x="208.4" y="394.5" font-size="7.6" fill="#111" text-anchor="middle" stroke="#111" stroke-width="0.12">15</text>
<text x="208.4" y="405.9" font-size="7.6" fill="#111" text-anchor="middle" stroke="#111" stroke-width="0.12">11</text>
<line x1="208.4" y1="410.6" x2="208.4" y2="413.9" stroke="#1a1a1a" stroke-width="1.3"/>
<text x="208.4" y="422.2" font-size="7.6" fill="#111" text-anchor="middle" stroke="#111" stroke-width="0.12">0</text>
<text x="222.02" y="394.5" font-size="7.6" fill="#111" text-anchor="middle" stroke="#111" stroke-width="0.12">14</text>
<text x="222.02" y="405.9" font-size="7.6" fill="#111" text-anchor="middle" stroke="#111" stroke-width="0.12">6</text>
<line x1="222.02" y1="410.6" x2="222.02" y2="413.9" stroke="#1a1a1a" stroke-width="1.3"/>
<text x="222.02" y="422.2" font-size="7.6" fill="#111" text-anchor="middle" stroke="#111" stroke-width="0.12">1</text>
<text x="235.63" y="394.5" font-size="7.6" fill="#111" text-anchor="middle" stroke="#111" stroke-width="0.12">13</text>
<text x="235.63" y="405.9" font-size="7.6" fill="#111" text-anchor="middle" stroke="#111" stroke-width="0.12">3</text>
<line x1="235.63" y1="410.6" x2="235.63" y2="413.9" stroke="#1a1a1a" stroke-width="1.3"/>
<text x="235.63" y="422.2" font-size="7.6" fill="#111" text-anchor="middle" stroke="#111" stroke-width="0.12">2</text>
<text x="249.25" y="394.5" font-size="7.6" fill="#111" text-anchor="middle" stroke="#111" stroke-width="0.12">10</text>
<text x="249.25" y="405.9" font-size="7.6" fill="#111" text-anchor="middle" stroke="#111" stroke-width="0.12">2</text>
<line x1="249.25" y1="410.6" x2="249.25" y2="413.9" stroke="#1a1a1a" stroke-width="1.3"/>
<text x="249.25" y="422.2" font-size="7.6" fill="#111" text-anchor="middle" stroke="#111" stroke-width="0.12">3</text>
<text x="262.87" y="394.5" font-size="7.6" fill="#111" text-anchor="middle" stroke="#111" stroke-width="0.12">9</text>
<text x="262.87" y="405.9" font-size="7.6" fill="#111" text-anchor="middle" stroke="#111" stroke-width="0.12">2</text>
<line x1="262.87" y1="410.6" x2="262.87" y2="413.9" stroke="#1a1a1a" stroke-width="1.3"/>
<text x="262.87" y="422.2" font-size="7.6" fill="#111" text-anchor="middle" stroke="#111" stroke-width="0.12">4</text>
<text x="276.49" y="394.5" font-size="7.6" fill="#111" text-anchor="middle" stroke="#111" stroke-width="0.12">8</text>
<text x="276.49" y="405.9" font-size="7.6" fill="#111" text-anchor="middle" stroke="#111" stroke-width="0.12">1</text>
<line x1="276.49" y1="410.6" x2="276.49" y2="413.9" stroke="#1a1a1a" stroke-width="1.3"/>
<text x="276.49" y="422.2" font-size="7.6" fill="#111" text-anchor="middle" stroke="#111" stroke-width="0.12">5</text>
<text x="290.1" y="394.5" font-size="7.6" fill="#111" text-anchor="middle" stroke="#111" stroke-width="0.12">7</text>
<text x="290.1" y="405.9" font-size="7.6" fill="#111" text-anchor="middle" stroke="#111" stroke-width="0.12">0</text>
<line x1="290.1" y1="410.6" x2="290.1" y2="413.9" stroke="#1a1a1a" stroke-width="1.3"/>
<text x="290.1" y="422.2" font-size="7.6" fill="#111" text-anchor="middle" stroke="#111" stroke-width="0.12">6</text>
<text x="303.72" y="394.5" font-size="7.6" fill="#111" text-anchor="middle" stroke="#111" stroke-width="0.12">6</text>
<text x="303.72" y="405.9" font-size="7.6" fill="#111" text-anchor="middle" stroke="#111" stroke-width="0.12">0</text>
<line x1="303.72" y1="410.6" x2="303.72" y2="413.9" stroke="#1a1a1a" stroke-width="1.3"/>
<text x="303.72" y="422.2" font-size="7.6" fill="#111" text-anchor="middle" stroke="#111" stroke-width="0.12">7</text>
<text x="317.34" y="394.5" font-size="7.6" fill="#111" text-anchor="middle" stroke="#111" stroke-width="0.12">6</text>
<text x="317.34" y="405.9" font-size="7.6" fill="#111" text-anchor="middle" stroke="#111" stroke-width="0.12">0</text>
<line x1="317.34" y1="410.6" x2="317.34" y2="413.9" stroke="#1a1a1a" stroke-width="1.3"/>
<text x="317.34" y="422.2" font-size="7.6" fill="#111" text-anchor="middle" stroke="#111" stroke-width="0.12">8</text>
<text x="330.95" y="394.5" font-size="7.6" fill="#111" text-anchor="middle" stroke="#111" stroke-width="0.12">6</text>
<text x="330.95" y="405.9" font-size="7.6" fill="#111" text-anchor="middle" stroke="#111" stroke-width="0.12">0</text>
<line x1="330.95" y1="410.6" x2="330.95" y2="413.9" stroke="#1a1a1a" stroke-width="1.3"/>
<text x="330.95" y="422.2" font-size="7.6" fill="#111" text-anchor="middle" stroke="#111" stroke-width="0.12">9</text>
<text x="344.57" y="394.5" font-size="7.6" fill="#111" text-anchor="middle" stroke="#111" stroke-width="0.12">5</text>
<text x="344.57" y="405.9" font-size="7.6" fill="#111" text-anchor="middle" stroke="#111" stroke-width="0.12">0</text>
<line x1="344.57" y1="410.6" x2="344.57" y2="413.9" stroke="#1a1a1a" stroke-width="1.3"/>
<text x="344.57" y="422.2" font-size="7.6" fill="#111" text-anchor="middle" stroke="#111" stroke-width="0.12">10</text>
<text x="358.19" y="394.5" font-size="7.6" fill="#111" text-anchor="middle" stroke="#111" stroke-width="0.12">5</text>
<text x="358.19" y="405.9" font-size="7.6" fill="#111" text-anchor="middle" stroke="#111" stroke-width="0.12">0</text>
<line x1="358.19" y1="410.6" x2="358.19" y2="413.9" stroke="#1a1a1a" stroke-width="1.3"/>
<text x="358.19" y="422.2" font-size="7.6" fill="#111" text-anchor="middle" stroke="#111" stroke-width="0.12">11</text>
<text x="371.8" y="394.5" font-size="7.6" fill="#111" text-anchor="middle" stroke="#111" stroke-width="0.12">4</text>
<text x="371.8" y="405.9" font-size="7.6" fill="#111" text-anchor="middle" stroke="#111" stroke-width="0.12">0</text>
<line x1="371.8" y1="410.6" x2="371.8" y2="413.9" stroke="#1a1a1a" stroke-width="1.3"/>
<text x="371.8" y="422.2" font-size="7.6" fill="#111" text-anchor="middle" stroke="#111" stroke-width="0.12">12</text>
<rect x="0" y="0" width="520" height="1.1" fill="#000"/>
<rect x="0" y="0" width="1.1" height="429" fill="#000"/>
<rect x="518.6" y="0" width="1.4" height="429" fill="#000"/>
<rect x="0" y="427.4" width="520" height="1.6" fill="#000"/>
</svg>
</body></html>
